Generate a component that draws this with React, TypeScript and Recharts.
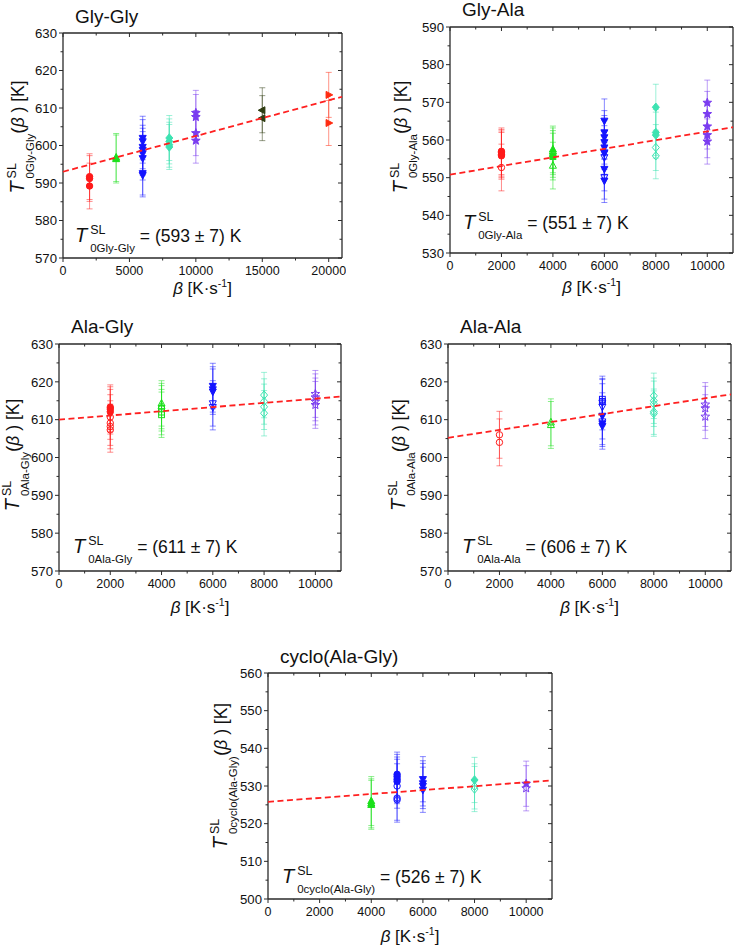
import React from "react";
import { ScatterChart, Scatter, XAxis, YAxis, ErrorBar } from "recharts";

const FONT = "'Liberation Sans', Arial, Helvetica, sans-serif";
const INK = "#111111";
const AXIS = "#2a2a2a";

// heating rate beta [K/s] -> T0(beta) [K]; err = half length of the error bar
type Group = {
  beta: number;
  err: number;
  filled?: number[];
  open?: number[];
  square?: number[];
  openSquare?: number[];
};

const glyGly: Group[] = [
  { beta: 2000, err: 6.1, filled: [591.7, 591.2, 589.2] },
  { beta: 4000, err: 6.4, filled: [596.8, 596.4] },
  { beta: 6000, err: 5.8, filled: [602.0, 601.1, 599.6, 598.8, 597.9, 596.6, 592.6, 592.1] },
  { beta: 8000, err: 6.0, filled: [602.0, 601.1, 600.2, 599.6] },
  { beta: 10000, err: 6.0, filled: [608.7, 607.6, 603.3, 601.3] },
  { beta: 15000, err: 6.0, filled: [609.4, 607.3] },
  { beta: 20000, err: 6.0, filled: [613.5, 606.0] },
];

const glyAla: Group[] = [
  { beta: 2000, err: 6.2, filled: [557.0, 556.6, 556.2, 555.8], open: [552.7] },
  { beta: 4000, err: 6.2, filled: [557.5], open: [557.0, 556.3, 553.2], square: [555.6] },
  { beta: 6000, err: 5.8, filled: [565.1, 562.0, 560.7, 559.4, 558.0, 556.5, 552.3, 549.2], open: [556.7, 555.4, 550.1] },
  { beta: 8000, err: 6.1, filled: [568.7, 562.0, 561.3], open: [558.0, 555.8] },
  { beta: 10000, err: 6.0, filled: [569.9, 566.9, 563.6, 561.3, 559.6] },
];

const alaGly: Group[] = [
  { beta: 2000, err: 5.9, filled: [613.3, 612.8, 612.1], open: [610.7, 609.1, 608.2, 607.3] },
  { beta: 4000, err: 6.0, open: [614.3, 613.6], openSquare: [613.0, 612.0, 611.3] },
  { beta: 6000, err: 6.0, filled: [618.9, 618.0, 617.4], open: [614.3, 613.3] },
  { beta: 8000, err: 6.0, open: [616.5, 614.8, 613.4, 611.7] },
  { beta: 10000, err: 6.2, open: [616.8, 615.9, 614.8, 613.9] },
];

const alaAla: Group[] = [
  { beta: 2000, err: 6.2, open: [606.0, 604.0] },
  { beta: 4000, err: 6.2, open: [609.3, 608.6] },
  { beta: 6000, err: 6.1, filled: [611.0, 609.0, 608.3], open: [614.5, 613.4, 609.5], openSquare: [615.4, 614.8] },
  { beta: 8000, err: 6.0, open: [616.3, 615.0, 614.2, 612.1, 611.6] },
  { beta: 10000, err: 5.8, open: [614.0, 613.0, 610.8] },
];

const cycloAlaGly: Group[] = [
  { beta: 4000, err: 6.5, filled: [526.0, 525.4, 525.0] },
  { beta: 5000, err: 5.9, filled: [533.1, 532.5, 531.8, 531.2], open: [530.0, 526.8, 526.3] },
  { beta: 6000, err: 6.0, filled: [531.8, 530.7, 530.0, 529.0] },
  { beta: 8000, err: 6.0, filled: [531.6], open: [529.9, 529.2] },
  { beta: 10000, err: 6.0, filled: [530.6], open: [529.4] },
];

// linear fits, end points [beta, T]
const glyGlyFit = [[0, 593.0], [21000, 613.0]];
const glyAlaFit = [[0, 550.8], [11000, 563.4]];
const alaGlyFit = [[0, 610.0], [11000, 616.1]];
const alaAlaFit = [[0, 605.2], [11000, 616.7]];
const cycloFit = [[0, 525.8], [11000, 531.5]];

// axis ticks (majors are labelled, the rest are minor)
const T_TICKS_HI = [570, 575, 580, 585, 590, 595, 600, 605, 610, 615, 620, 625, 630];
const T_TICKS_GA = [530, 535, 540, 545, 550, 555, 560, 565, 570, 575, 580, 585, 590];
const T_TICKS_CY = [500, 505, 510, 515, 520, 525, 530, 535, 540, 545, 550, 555, 560];
const BETA_TICKS_20K = [0, 2500, 5000, 7500, 10000, 12500, 15000, 17500, 20000];
const BETA_TICKS_10K = [0, 1000, 2000, 3000, 4000, 5000, 6000, 7000, 8000, 9000, 10000];

const RATE_STYLE: Record<number, { color: string; symbol: string }> = {
  2000: { color: "#ff1a1a", symbol: "circle" },
  4000: { color: "#1be01b", symbol: "triangle" },
  5000: { color: "#1414ff", symbol: "circle" },
  6000: { color: "#1414ff", symbol: "triangleDown" },
  8000: { color: "#3de3b2", symbol: "diamond" },
  10000: { color: "#7a3cf0", symbol: "star" },
  15000: { color: "#2e3b10", symbol: "triangleLeft" },
  20000: { color: "#ff2a10", symbol: "triangleRight" },
};

function Marker({ cx, cy, sym, color, open }: any) {
  if (cx == null || cy == null) return <g />;
  const s = 3.5;
  const fill = open ? "none" : color;
  const common = { fill, stroke: color, strokeWidth: 1 };
  if (sym === "circle") return <circle cx={cx} cy={cy} r={3.2} {...common} />;
  if (sym === "square") return <rect x={cx - 2.9} y={cy - 2.9} width={5.8} height={5.8} {...common} />;
  let d = "";
  if (sym === "triangle") d = `M${cx},${cy - s * 1.15}L${cx + s},${cy + s * 0.75}L${cx - s},${cy + s * 0.75}Z`;
  if (sym === "triangleDown") d = `M${cx},${cy + s * 1.15}L${cx + s},${cy - s * 0.75}L${cx - s},${cy - s * 0.75}Z`;
  if (sym === "triangleLeft") d = `M${cx - s * 1.15},${cy}L${cx + s * 0.75},${cy - s}L${cx + s * 0.75},${cy + s}Z`;
  if (sym === "triangleRight") d = `M${cx + s * 1.15},${cy}L${cx - s * 0.75},${cy - s}L${cx - s * 0.75},${cy + s}Z`;
  if (sym === "diamond") d = `M${cx},${cy - s * 1.2}L${cx + s},${cy}L${cx},${cy + s * 1.2}L${cx - s},${cy}Z`;
  if (sym === "star") {
    const pts: string[] = [];
    for (let i = 0; i < 10; i++) {
      const r = i % 2 === 0 ? s * 1.3 : s * 0.55;
      const a = -Math.PI / 2 + (i * Math.PI) / 5;
      pts.push(`${cx + r * Math.cos(a)},${cy + r * Math.sin(a)}`);
    }
    d = `M${pts.join("L")}Z`;
  }
  return <path d={d} {...common} />;
}

const tickText = { fontFamily: FONT, fill: INK };

function BottomTick({ x, y, payload, major }: any) {
  const isMajor = payload.value % major === 0;
  return (
    <g>
      <line x1={x} y1={y} x2={x} y2={y + (isMajor ? 4 : 2.5)} stroke={AXIS} strokeWidth={1} />
      {isMajor && (
        <text x={x} y={y + 16.5} textAnchor="middle" fontSize={12.5} {...tickText}>
          {payload.value}
        </text>
      )}
    </g>
  );
}

function LeftTick({ x, y, payload }: any) {
  const isMajor = payload.value % 10 === 0;
  return (
    <g>
      <line x1={x} y1={y} x2={x - (isMajor ? 4 : 2.5)} y2={y} stroke={AXIS} strokeWidth={1} />
      {isMajor && (
        <text x={x - 6} y={y + 4.7} textAnchor="end" fontSize={13.2} {...tickText}>
          {payload.value}
        </text>
      )}
    </g>
  );
}

function TopTick({ x, y, payload, major }: any) {
  const isMajor = payload.value % major === 0;
  return <line x1={x} y1={y} x2={x} y2={y + (isMajor ? 4 : 2.5)} stroke={AXIS} strokeWidth={1} />;
}

function RightTick({ x, y, payload }: any) {
  const isMajor = payload.value % 10 === 0;
  return <line x1={x} y1={y} x2={x - (isMajor ? 4 : 2.5)} y2={y} stroke={AXIS} strokeWidth={1} />;
}

const PANELS = [
  {
    id: "gg", groups: glyGly, fit: glyGlyFit, plot: { l: 63, t: 33, r: 342, b: 258 },
    xDomain: [0, 21000], xTicks: BETA_TICKS_20K, xMajor: 5000, yDomain: [570, 630], yTicks: T_TICKS_HI,
    title: "Gly-Gly", titlePos: [75, 23], sub: "0Gly-Gly", value: "593",
    yLab: [24, 137], ann: [75, 242], xLab: [202.5, 294],
  },
  {
    id: "ga", groups: glyAla, fit: glyAlaFit, plot: { l: 450, t: 27, r: 733, b: 253 },
    xDomain: [0, 11000], xTicks: BETA_TICKS_10K, xMajor: 2000, yDomain: [530, 590], yTicks: T_TICKS_GA,
    title: "Gly-Ala", titlePos: [462, 16], sub: "0Gly-Ala", value: "551",
    yLab: [407, 137], ann: [463, 229], xLab: [591.5, 293],
  },
  {
    id: "ag", groups: alaGly, fit: alaGlyFit, plot: { l: 59, t: 344, r: 341, b: 571 },
    xDomain: [0, 11000], xTicks: BETA_TICKS_10K, xMajor: 2000, yDomain: [570, 630], yTicks: T_TICKS_HI,
    title: "Ala-Gly", titlePos: [71, 333], sub: "0Ala-Gly", value: "611",
    yLab: [19, 455], ann: [73, 553], xLab: [200, 613],
  },
  {
    id: "aa", groups: alaAla, fit: alaAlaFit, plot: { l: 448, t: 344, r: 731, b: 571 },
    xDomain: [0, 11000], xTicks: BETA_TICKS_10K, xMajor: 2000, yDomain: [570, 630], yTicks: T_TICKS_HI,
    title: "Ala-Ala", titlePos: [460, 333], sub: "0Ala-Ala", value: "606",
    yLab: [405, 455], ann: [462, 553], xLab: [589.5, 613],
  },
  {
    id: "cy", groups: cycloAlaGly, fit: cycloFit, plot: { l: 268, t: 673, r: 552, b: 899 },
    xDomain: [0, 11000], xTicks: BETA_TICKS_10K, xMajor: 2000, yDomain: [500, 560], yTicks: T_TICKS_CY,
    title: "cyclo(Ala-Gly)", titlePos: [280, 663], sub: "0cyclo(Ala-Gly)", value: "526",
    yLab: [227, 776], ann: [282, 883], xLab: [410, 942],
  },
];

const KINDS: [string, boolean, boolean][] = [
  ["filled", false, false],
  ["open", true, false],
  ["square", false, true],
  ["openSquare", true, true],
];

function Panel({ cfg }: any) {
  const { l, t, r, b } = cfg.plot;
  // the four axes are 1px thick, the margins make up for it
  const m = { top: 5, right: 3, bottom: 25, left: 41 };
  const w = r - l + m.left + m.right + 2;
  const h = b - t + m.top + m.bottom + 2;

  const series: any[] = [];
  cfg.groups.forEach((g: any) => {
    const st = RATE_STYLE[g.beta];
    KINDS.forEach(([k, open, sq]) => {
      const vals: number[] | undefined = g[k];
      if (!vals || vals.length === 0) return;
      series.push({
        key: `${g.beta}-${k}`,
        color: st.color,
        sym: sq ? "square" : st.symbol,
        open,
        data: vals.map((v) => ({ x: g.beta, y: v, e: g.err })),
      });
    });
  });
  const fitData = cfg.fit.map((p: number[]) => ({ x: p[0], y: p[1] }));
  const axisLine = { stroke: AXIS, strokeWidth: 1.3 };

  return (
    <div style={{ position: "absolute", left: l - m.left - 1, top: t - m.top - 1 }}>
      <ScatterChart width={w} height={h} margin={m}>
        <XAxis
          type="number" dataKey="x" domain={cfg.xDomain} ticks={cfg.xTicks} interval={0}
          height={1} tickSize={0} tickMargin={0} tickLine={false} axisLine={axisLine}
          tick={(p: any) => <BottomTick {...p} major={cfg.xMajor} />}
        />
        <XAxis
          xAxisId="t" orientation="top" type="number" dataKey="x" domain={cfg.xDomain} ticks={cfg.xTicks}
          interval={0} height={1} tickSize={0} tickMargin={0} tickLine={false} axisLine={axisLine}
          tick={(p: any) => <TopTick {...p} major={cfg.xMajor} />}
        />
        <YAxis
          type="number" dataKey="y" domain={cfg.yDomain} ticks={cfg.yTicks} interval={0}
          width={1} tickSize={0} tickMargin={0} tickLine={false} axisLine={axisLine}
          tick={(p: any) => <LeftTick {...p} />}
        />
        <YAxis
          yAxisId="r" orientation="right" type="number" dataKey="y" domain={cfg.yDomain} ticks={cfg.yTicks}
          interval={0} width={1} tickSize={0} tickMargin={0} tickLine={false} axisLine={axisLine}
          tick={(p: any) => <RightTick {...p} />}
        />
        {series.map((s) => (
          <Scatter
            key={s.key}
            data={s.data}
            fill={s.color}
            isAnimationActive={false}
            shape={(p: any) => <Marker cx={p.cx} cy={p.cy} sym={s.sym} color={s.color} open={s.open} />}
          >
            <ErrorBar dataKey="e" direction="y" width={3} stroke={s.color} strokeOpacity={0.5} strokeWidth={1} />
          </Scatter>
        ))}
        <Scatter
          data={fitData}
          xAxisId="t"
          yAxisId="r"
          isAnimationActive={false}
          line={{ stroke: "#ff2020", strokeWidth: 1.8, strokeDasharray: "6 3.5" }}
          shape={() => <g />}
        />
      </ScatterChart>
    </div>
  );
}

function TExpr({ x, y, sub, anchor = "start", rotate = false, children }: any) {
  return (
    <text
      x={x} y={y} textAnchor={anchor} fontFamily={FONT} fontSize={17.5} fill={INK}
      transform={rotate ? `rotate(-90 ${x} ${y})` : undefined}
    >
      <tspan fontStyle="italic" fontSize={20}>T</tspan>
      <tspan fontSize={12.5} dx={3} dy={-8.5}>SL</tspan>
      <tspan fontSize={11.5} dx={-15.3} dy={18}>{sub}</tspan>
      <tspan dy={-9.5}>{children}</tspan>
    </text>
  );
}

function Texts() {
  return (
    <svg width={734} height={947} style={{ position: "absolute", left: 0, top: 0, pointerEvents: "none" }}>
      {PANELS.map((c) => (
        <g key={c.id}>
          <text x={c.titlePos[0]} y={c.titlePos[1]} fontFamily={FONT} fontSize={19} fill={INK}>
            {c.title}
          </text>
          <TExpr x={c.yLab[0]} y={c.yLab[1]} sub={c.sub} anchor="middle" rotate>
            <tspan fontSize={19}>(</tspan>
            <tspan fontStyle="italic">β</tspan>
            <tspan> ) [K]</tspan>
          </TExpr>
          <TExpr x={c.ann[0]} y={c.ann[1]} sub={c.sub}>
            {` = (${c.value} ± 7) K`}
          </TExpr>
          <text x={c.xLab[0]} y={c.xLab[1]} textAnchor="middle" fontFamily={FONT} fontSize={17} fill={INK}>
            <tspan fontStyle="italic">β</tspan>
            <tspan> [K·s</tspan>
            <tspan fontSize={10.5} dy={-7}>-1</tspan>
            <tspan dy={7}>]</tspan>
          </text>
        </g>
      ))}
    </svg>
  );
}

export default function App() {
  return (
    <div
      style={{
        position: "absolute", left: 0, top: 0, width: 734, height: 947,
        overflow: "hidden", background: "#fff",
      }}
    >
      {PANELS.map((c) => (
        <Panel key={c.id} cfg={c} />
      ))}
      <Texts />
    </div>
  );
}
